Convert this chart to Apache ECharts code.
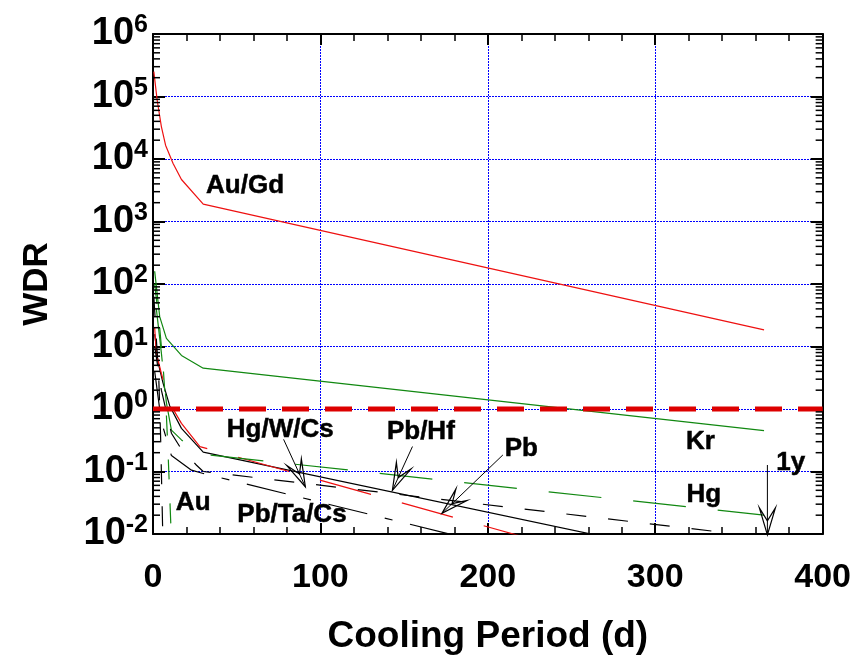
<!DOCTYPE html>
<html>
<head>
<meta charset="utf-8">
<title>WDR vs cooling period</title>
<script src="https://cdn.jsdelivr.net/npm/echarts@6/dist/echarts.min.js"></script>
<style>
  html, body { margin: 0; padding: 0; background: #fff; }
  #chart { width: 854px; height: 660px; }
</style>
</head>
<body>
<div id="chart"></div>
<script>
// cooling period (d) and WDR for each case
var auGdDays = [0.5, 2.5, 5, 7.5, 12, 17, 30, 365];
var auGdWdr  = [2.5e5, 8.7e4, 3.3e4, 1.66e4, 8.5e3, 4.7e3, 1.9e3, 18.4];
var krDays = [1, 4, 8, 17, 30, 365];
var krWdr  = [160, 30, 13.5, 7.2, 4.5, 0.45];
var pbHfDays = [1, 3, 6, 10, 17, 30, 365];
var pbHfWdr  = [15.8, 5.6, 2.6, 1.12, 0.49, 0.204, 0.0026];
var pbDays = [1, 2, 5, 10, 17, 28, 365];
var pbWdr  = [20, 7.8, 3.7, 1.23, 0.59, 0.25, 0.00076];
var hgDays = [2, 5, 8, 11, 17, 29, 365];
var hgWdr  = [40, 7.9, 1.26, 0.46, 0.32, 0.19, 0.020];
var hgWCsDays = [1, 5, 11, 16, 26, 30, 365];
var hgWCsWdr  = [10, 2, 0.41, 0.25, 0.126, 0.1, 0.0089];
var pbTaCsDays = [1, 5, 11, 23, 30, 365];
var pbTaCsWdr  = [4, 0.63, 0.18, 0.105, 0.093, 0.00058];
var auDays = [1, 4, 6, 8, 9, 10, 11];
var auWdr  = [100, 20, 5, 0.8, 0.2, 0.04, 0.008];
var wDays = [0.5, 3.5, 4.5, 6];
var wWdr  = [63, 2.8, 0.4, 0.0063];
var limitDays = [0, 400];
var limitWdr  = [1, 1];

// text labels in the plot (centre of text, in data units)
var labelNames = ['Au/Gd', 'Hg/W/Cs', 'Pb/Hf', 'Pb', 'Kr', 'Hg', '1y', 'Au', 'Pb/Ta/Cs'];
var labelDays  = [55, 76, 160, 220, 327, 329, 381, 24, 83];
var labelWdr   = [3.7e3, 0.46, 0.43, 0.23, 0.30, 0.042, 0.137, 0.031, 0.020];

// pointer arrows: tail -> tip
var arrowFrom = [[78, 0.327], [155, 0.251], [209, 0.184], [367, 0.127]];
var arrowTo   = [[91, 0.057], [143, 0.050], [172.6, 0.0214], [367, 0.0097]];

// log axis decades (exponents)
var decades = [-2, -1, 0, 1, 2, 3, 4, 5, 6];

var FONT = "'Liberation Sans', Arial, sans-serif";
var RED = '#ee1111', GREEN = '#118811', BLACK = '#000';
var GRID_BLUE = '#0000ff';

function pairs(xs, ys) {
  return xs.map(function (x, i) { return [x, ys[i]]; });
}

function curve(name, xs, ys, color, dash) {
  return {
    name: name,
    type: 'line',
    data: pairs(xs, ys),
    symbol: 'none',
    silent: true,
    z: 4,
    lineStyle: { color: color, width: 1.2, type: dash || 'solid' }
  };
}

// minor ticks 2..9 in each decade, drawn at their log positions
var minorTickVals = [];
decades.slice(0, -1).forEach(function (e) {
  for (var m = 2; m <= 9; m++) minorTickVals.push([0, m * Math.pow(10, e)]);
});

var chart = echarts.init(document.getElementById('chart'));

var xAxisBase = {
  type: 'value',
  min: 0,
  max: 400,
  interval: 100,
  axisLine: { show: true, onZero: false, lineStyle: { color: '#000', width: 2 } },
  axisTick: { show: true, inside: true, length: 11, lineStyle: { color: '#000', width: 2 } },
  minorTick: { show: true, splitNumber: 5, length: 7, lineStyle: { color: '#000', width: 1.5 } }
};
var yAxisBase = {
  type: 'log',
  logBase: 10,
  min: 0.01,
  max: 1e6,
  splitNumber: 8,
  axisLine: { show: true, onZero: false, lineStyle: { color: '#000', width: 2 } },
  axisTick: { show: true, inside: true, length: 12, lineStyle: { color: '#000', width: 2 } }
};

var option = {
  animation: false,
  backgroundColor: '#fff',
  grid: { left: 153, right: 28, top: 34, bottom: 125 },
  xAxis: [
    Object.assign({}, xAxisBase, {
      position: 'bottom',
      name: 'Cooling Period (d)',
      nameLocation: 'middle',
      nameGap: 84,
      nameTextStyle: { fontSize: 37, fontWeight: 'bold', color: '#000', fontFamily: FONT },
      axisLabel: { fontSize: 34, fontWeight: 'bold', color: '#000', fontFamily: FONT, margin: 27 },
      splitLine: { show: true, lineStyle: { color: GRID_BLUE, type: [2, 1], width: 1 } }
    }),
    Object.assign({}, xAxisBase, {
      position: 'top',
      axisLabel: { show: false },
      splitLine: { show: false }
    })
  ],
  yAxis: [
    Object.assign({}, yAxisBase, {
      position: 'left',
      name: 'WDR',
      nameLocation: 'middle',
      nameRotate: 90,
      nameGap: 98,
      nameTextStyle: { fontSize: 35, fontWeight: 'bold', color: '#000', fontFamily: FONT },
      axisLabel: {
        margin: 5,
        formatter: function (v) {
          var e = Math.round(Math.log(v) / Math.LN10);
          return '{b|10}{s|' + e + '}';
        },
        rich: {
          b: { fontSize: 38, fontWeight: 'bold', color: '#000', fontFamily: FONT, lineHeight: 42 },
          s: { fontSize: 25, fontWeight: 'bold', color: '#000', fontFamily: FONT, verticalAlign: 'top', lineHeight: 24 }
        }
      },
      splitLine: { show: true, lineStyle: { color: GRID_BLUE, type: [2, 1], width: 1 } }
    }),
    Object.assign({}, yAxisBase, {
      position: 'right',
      axisLabel: { show: false },
      splitLine: { show: false }
    })
  ],
  series: [
    curve('Au/Gd', auGdDays, auGdWdr, RED),
    curve('Kr', krDays, krWdr, GREEN),
    curve('Pb/Hf', pbHfDays, pbHfWdr, BLACK),
    curve('Pb', pbDays, pbWdr, RED, [53, 32]),
    curve('Hg', hgDays, hgWdr, GREEN, [53, 32]),
    curve('Hg/W/Cs', hgWCsDays, hgWCsWdr, BLACK, [20, 22]),
    curve('Pb/Ta/Cs', pbTaCsDays, pbTaCsWdr, BLACK, [40, 18, 8, 18]),
    curve('Au', auDays, auWdr, GREEN, [20, 24]),
    curve('W', wDays, wWdr, BLACK, [20, 22]),
    {
      name: 'limit',
      type: 'line',
      data: pairs(limitDays, limitWdr),
      symbol: 'none',
      silent: true,
      z: 5,
      lineStyle: { color: '#dd0000', width: 5, type: [27, 16] }
    },
    {
      // minor log ticks on left and right frame
      type: 'custom',
      silent: true,
      z: 6,
      encode: { x: 0, y: 1 },
      data: minorTickVals,
      renderItem: function (params, api) {
        var v = api.value(1);
        var pl = api.coord([0, v]);
        var pr = api.coord([400, v]);
        var st = { stroke: '#000', lineWidth: 1.5 };
        return {
          type: 'group',
          children: [
            { type: 'line', shape: { x1: pl[0], y1: pl[1], x2: pl[0] + 7, y2: pl[1] }, style: st },
            { type: 'line', shape: { x1: pr[0] - 7, y1: pr[1], x2: pr[0], y2: pr[1] }, style: st }
          ]
        };
      }
    },
    {
      // pointer arrows with open heads
      type: 'custom',
      silent: true,
      z: 7,
      encode: { x: [0, 2], y: [1, 3] },
      data: arrowFrom.map(function (f, i) { return [f[0], f[1], arrowTo[i][0], arrowTo[i][1]]; }),
      renderItem: function (params, api) {
        var p0 = api.coord([api.value(0), api.value(1)]);
        var p1 = api.coord([api.value(2), api.value(3)]);
        var dx = p1[0] - p0[0], dy = p1[1] - p0[1];
        var len = Math.sqrt(dx * dx + dy * dy);
        var ux = dx / len, uy = dy / len, nx = -uy, ny = ux;
        var headLen = 27, half = 8, notch = 14;
        var bx = p1[0] - ux * headLen, by = p1[1] - uy * headLen;
        var left = [bx + nx * half, by + ny * half];
        var right = [bx - nx * half, by - ny * half];
        var inner = [p1[0] - ux * notch, p1[1] - uy * notch];
        return {
          type: 'group',
          children: [
            { type: 'line', shape: { x1: p0[0], y1: p0[1], x2: p1[0], y2: p1[1] }, style: { stroke: '#000', lineWidth: 1 } },
            { type: 'polygon', shape: { points: [p1, left, inner, right] }, style: { fill: 'none', stroke: '#000', lineWidth: 1.2 } }
          ]
        };
      }
    },
    {
      // curve names
      type: 'scatter',
      silent: true,
      z: 8,
      symbolSize: 1,
      itemStyle: { color: 'rgba(0,0,0,0)', opacity: 1 },
      label: {
        show: true,
        position: 'inside',
        formatter: '{b}',
        fontSize: 26,
        fontWeight: 'bold',
        color: '#000',
        opacity: 1,
        textBorderColor: '#000',
        textBorderWidth: 0.5,
        fontFamily: FONT
      },
      data: labelNames.map(function (n, i) { return { name: n, value: [labelDays[i], labelWdr[i]] }; })
    }
  ]
};

chart.setOption(option);
</script>
</body>
</html>
